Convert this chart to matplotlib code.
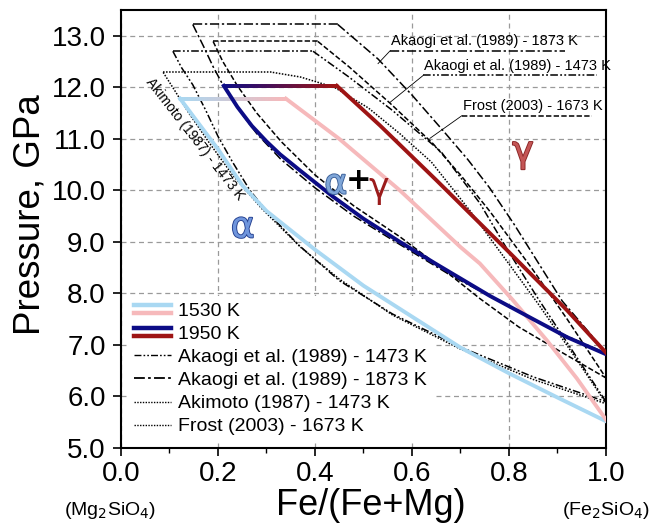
import matplotlib
matplotlib.use("Agg")
import matplotlib.pyplot as plt
import numpy as np
from matplotlib.collections import LineCollection
from matplotlib.colors import to_rgb
from matplotlib.lines import Line2D
from matplotlib.legend_handler import HandlerBase
import matplotlib.patheffects as pe

plt.rcParams['font.family'] = ['Liberation Sans', 'DejaVu Sans']

# ---- this work: 1530 K and 1950 K loops ----
t1530_top_x = [0.122, 0.34]
t1530_top_y = [11.78, 11.78]
t1530_alpha_x = [0.122, 0.16, 0.2, 0.25, 0.3, 0.4, 0.5, 0.6, 0.7, 0.8, 0.9, 1.0]
t1530_alpha_y = [11.78, 11.3, 10.8, 10.1, 9.6, 8.85, 8.15, 7.55, 6.95, 6.45, 5.98, 5.52]
t1530_gamma_x = [0.34, 0.45, 0.575, 0.70, 0.74, 0.808, 0.878, 0.94, 1.0]
t1530_gamma_y = [11.78, 11.0, 10.0, 8.9, 8.58, 7.87, 7.09, 6.35, 5.55]

t1950_top_x = [0.212, 0.445]
t1950_top_y = [12.03, 12.03]
t1950_alpha_x = [0.212, 0.24, 0.27, 0.3, 0.328, 0.37, 0.437, 0.5, 0.575, 0.65, 0.761, 0.85, 0.92, 1.0]
t1950_alpha_y = [12.03, 11.62, 11.25, 10.95, 10.7, 10.38, 9.88, 9.45, 9.0, 8.57, 7.95, 7.5, 7.15, 6.82]
t1950_gamma_x = [0.445, 0.534, 0.65, 0.796, 0.92, 1.0]
t1950_gamma_y = [12.03, 11.26, 10.2, 8.84, 7.67, 6.85]

# ---- literature loops ----
ak1873_top_x = [0.148, 0.447]
ak1873_top_y = [13.22, 13.22]
ak1873_alpha_x = [0.148, 0.17, 0.19, 0.21, 0.24, 0.28, 0.33, 0.40, 0.48, 0.575, 0.68, 0.80, 0.90, 1.0]
ak1873_alpha_y = [13.22, 12.8, 12.4, 12.05, 11.6, 11.1, 10.6, 10.05, 9.5, 8.95, 8.35, 7.75, 7.25, 6.84]
ak1873_gamma_x = [0.447, 0.53, 0.6, 0.665, 0.715, 0.76, 0.81, 0.86, 0.91, 0.96, 1.0]
ak1873_gamma_y = [13.22, 12.55, 11.85, 11.15, 10.6, 10.05, 9.35, 8.6, 7.85, 7.3, 6.84]

fr1673_top_x = [0.19, 0.406]
fr1673_top_y = [12.89, 12.89]
fr1673_alpha_x = [0.19, 0.21, 0.24, 0.28, 0.33, 0.40, 0.48, 0.575, 0.66, 0.74, 0.82, 0.91, 1.0]
fr1673_alpha_y = [12.89, 12.5, 12.03, 11.5, 10.95, 10.3, 9.7, 9.1, 8.5, 7.9, 7.35, 6.85, 6.36]
fr1673_gamma_x = [0.406, 0.47, 0.555, 0.643, 0.70, 0.76, 0.85, 0.92, 1.0]
fr1673_gamma_y = [12.89, 12.4, 11.69, 10.91, 10.3, 9.6, 8.45, 7.5, 6.36]

ak1473_top_x = [0.107, 0.396]
ak1473_top_y = [12.70, 12.70]
ak1473_alpha_x = [0.107, 0.125, 0.148, 0.175, 0.2, 0.23, 0.266, 0.30, 0.365, 0.45, 0.56, 0.70, 0.85, 1.0]
ak1473_alpha_y = [12.70, 12.38, 12.05, 11.55, 11.05, 10.55, 10.0, 9.6, 8.95, 8.25, 7.6, 6.96, 6.38, 5.9]
ak1473_gamma_x = [0.396, 0.47, 0.56, 0.66, 0.74, 0.80, 0.86, 0.93, 1.0]
ak1473_gamma_y = [12.70, 12.2, 11.55, 10.75, 9.75, 8.8, 7.9, 6.9, 5.9]

am1473_top_x = [0.087, 0.313]
am1473_top_y = [12.29, 12.29]
am1473_alpha_x = [0.087, 0.11, 0.14, 0.18, 0.23, 0.29, 0.37, 0.45, 0.56, 0.70, 0.85, 1.0]
am1473_alpha_y = [12.29, 11.95, 11.5, 10.95, 10.3, 9.65, 8.9, 8.28, 7.58, 6.92, 6.33, 5.86]
am1473_gamma_x = [0.313, 0.37, 0.44, 0.51, 0.575, 0.64, 0.72, 0.79, 0.86, 0.93, 1.0]
am1473_gamma_y = [12.29, 12.2, 12.0, 11.6, 11.1, 10.55, 9.6, 8.7, 7.8, 6.85, 5.87]

legend_labels = ["1530 K", "1950 K",
                 "Akaogi et al. (1989) - 1473 K", "Akaogi et al. (1989) - 1873 K",
                 "Akimoto (1987) - 1473 K", "Frost (2003) - 1673 K"]

light_blue, pink = "#a9d8f2", "#f6b9bb"
navy, dark_red = "#0c0c86", "#9e1414"

ls_ak1873 = (0, (6, 1.8, 1.5, 1.8))
ls_ak1473 = (0, (5, 1.5, 1.2, 1.5, 1.2, 1.5))
ls_am = (0, (1, 1))
ls_fr = (0, (3.5, 1.5))


def gradient_line(ax, xs, ys, c1, c2, lw):
    # straight top segment, coloured from alpha side to gamma side
    x = np.linspace(xs[0], xs[1], 60)
    y = np.linspace(ys[0], ys[1], 60)
    pts = np.column_stack([x, y]).reshape(-1, 1, 2)
    segs = np.concatenate([pts[:-1], pts[1:]], axis=1)
    a, b = np.array(to_rgb(c1)), np.array(to_rgb(c2))
    f = np.linspace(0, 1, len(segs))[:, None]
    lc = LineCollection(segs, colors=a * (1 - f) + b * f, linewidths=lw,
                        capstyle='round', zorder=4)
    ax.add_collection(lc)


class TwoColor:
    def __init__(self, c1, c2):
        self.c1, self.c2 = c1, c2


class TwoColorHandler(HandlerBase):
    def create_artists(self, legend, orig, xd, yd, width, height, fontsize, trans):
        l1 = Line2D([-xd, width - xd], [0.80 * height - yd] * 2, color=orig.c1, lw=3.2, transform=trans)
        l2 = Line2D([-xd, width - xd], [0.25 * height - yd] * 2, color=orig.c2, lw=3.2, transform=trans)
        return [l1, l2]


fig = plt.figure(figsize=(6.49, 5.28), dpi=100)
ax = fig.add_axes([0.1864, 0.1515, 0.7473, 0.8295])

# literature
for (tx, ty, axx, ayy, gx, gy, ls) in [
        (ak1873_top_x, ak1873_top_y, ak1873_alpha_x, ak1873_alpha_y, ak1873_gamma_x, ak1873_gamma_y, ls_ak1873),
        (fr1673_top_x, fr1673_top_y, fr1673_alpha_x, fr1673_alpha_y, fr1673_gamma_x, fr1673_gamma_y, ls_fr),
        (ak1473_top_x, ak1473_top_y, ak1473_alpha_x, ak1473_alpha_y, ak1473_gamma_x, ak1473_gamma_y, ls_ak1473),
        (am1473_top_x, am1473_top_y, am1473_alpha_x, am1473_alpha_y, am1473_gamma_x, am1473_gamma_y, ls_am)]:
    ax.plot(tx, ty, color='black', lw=1.1, ls=ls, zorder=3)
    ax.plot(axx, ayy, color='black', lw=1.1, ls=ls, zorder=3)
    ax.plot(gx, gy, color='black', lw=1.1, ls=ls, zorder=3)

# this work
ax.plot(t1530_alpha_x, t1530_alpha_y, color=light_blue, lw=2.8, zorder=4)
ax.plot(t1530_gamma_x, t1530_gamma_y, color=pink, lw=2.8, zorder=4)
gradient_line(ax, t1530_top_x, t1530_top_y, light_blue, pink, 2.8)
ax.plot(t1950_alpha_x, t1950_alpha_y, color=navy, lw=2.8, zorder=5)
ax.plot(t1950_gamma_x, t1950_gamma_y, color=dark_red, lw=2.8, zorder=5)
gradient_line(ax, t1950_top_x, t1950_top_y, navy, dark_red, 2.8)

# phase field labels
stroke = lambda c: [pe.withStroke(linewidth=1.3, foreground=c)]
ax.text(0.251, 9.28, "α", color="#6f95dc", fontsize=26, ha='center', va='center',
        family='DejaVu Sans', path_effects=stroke("#24408f"), zorder=6)
ax.text(0.443, 10.13, "α", color="#7fa6d8", fontsize=25, ha='center', va='center',
        family='DejaVu Sans', path_effects=stroke("#3a5f98"), zorder=6)
ax.text(0.489, 10.2, "+", color="black", fontsize=22, ha='center', va='center',
        family='DejaVu Sans', fontweight='bold', zorder=6)
ax.text(0.531, 10.05, "γ", color="#9b1b1b", fontsize=25, ha='center', va='center',
        family='DejaVu Sans', zorder=6)
ax.text(0.829, 10.75, "γ", color="#c45555", fontsize=26, ha='center', va='center',
        family='DejaVu Sans', path_effects=stroke("#8a2525"), zorder=6)

# labelled leaders for literature data
for (ux0, ux1, uy, lx, ly, ls, txt) in [
        (0.555, 0.915, 12.71, 0.530, 12.46, ls_ak1873, "Akaogi et al. (1989) - 1873 K"),
        (0.623, 0.981, 12.23, 0.555, 11.71, ls_ak1473, "Akaogi et al. (1989) - 1473 K"),
        (0.703, 0.971, 11.45, 0.637, 11.01, ls_fr, "Frost (2003) - 1673 K")]:
    ax.plot([ux0, ux1], [uy, uy], color='black', lw=1.1, ls=ls, zorder=3)
    ax.plot([lx, ux0], [ly, uy], color='black', lw=0.6, zorder=3)
    ax.text(ux0 + 0.002, uy + 0.05, txt, fontsize=10.5, ha='left', va='bottom', zorder=6)

ax.text(0.152, 11.0, "Akimoto (1987) - 1473 K", fontsize=10, rotation=-52,
        ha='center', va='center', rotation_mode='anchor', zorder=6)

# axes styling
ax.set_xlim(0, 1.0)
ax.set_ylim(5.0, 13.5)
ax.set_xticks(np.arange(0, 1.01, 0.2))
ax.set_xticks(np.arange(0.1, 1.0, 0.2), minor=True)
ax.set_yticks(np.arange(5, 13.01, 1.0))
ax.set_xticklabels([f"{v:.1f}" for v in np.arange(0, 1.01, 0.2)])
ax.set_yticklabels([f"{v:.1f}" for v in np.arange(5, 13.01, 1.0)])
ax.tick_params(axis='both', which='major', direction='out', length=6, width=1.2,
               labelsize=20)
ax.tick_params(axis='y', which='major', pad=5)
ax.tick_params(axis='x', which='major', pad=3)
ax.tick_params(axis='x', which='minor', direction='out', length=3.5, width=1.0)
for s in ax.spines.values():
    s.set_linewidth(1.5)
ax.grid(True, which='major', color='#9a9a9a', ls=(0, (4, 3)), lw=0.9)
ax.set_axisbelow(True)

ax.set_xlabel("Fe/(Fe+Mg)", fontsize=26)
ax.xaxis.set_label_coords(0.515, -0.092)
ax.set_ylabel("Pressure, GPa", fontsize=26.5)
ax.yaxis.set_label_coords(-0.152, 0.532)

ax.text(-0.022, -0.118, r"(Mg$_2$SiO$_4$)", transform=ax.get_xaxis_transform(),
        fontsize=14, ha='center', va='top')
ax.text(1.0, -0.118, r"(Fe$_2$SiO$_4$)", transform=ax.get_xaxis_transform(),
        fontsize=14, ha='center', va='top')

handles = [TwoColor(light_blue, pink), TwoColor(navy, dark_red),
           Line2D([], [], color='black', lw=1.0, ls=ls_ak1473),
           Line2D([], [], color='black', lw=1.3, ls=ls_ak1873),
           Line2D([], [], color='black', lw=1.0, ls=ls_am),
           Line2D([], [], color='black', lw=1.0, ls=ls_am)]
leg = ax.legend(handles, legend_labels, handler_map={TwoColor: TwoColorHandler()},
                loc='lower left', fontsize=14, frameon=True, facecolor='white',
                edgecolor='none', framealpha=1, handlelength=1.9, handletextpad=0.4,
                labelspacing=0.28, borderaxespad=0.3, borderpad=0.35)
leg.set_zorder(2.5)

fig.savefig("out.png", dpi=100)
